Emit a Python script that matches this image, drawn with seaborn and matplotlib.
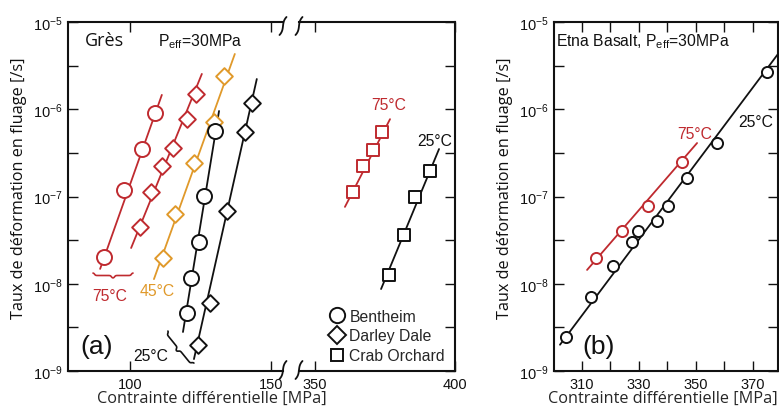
import numpy as np
import matplotlib
matplotlib.use("Agg")
import matplotlib.pyplot as plt
from matplotlib.lines import Line2D
from matplotlib.ticker import LogLocator, NullFormatter, FixedLocator
import seaborn as sns

W, H = 779, 414
RED = "#bf2a2f"
ORANGE = "#e0992a"
BLACK = "#111111"

# ---- (a) sandstones, left part of the broken axis ----
bent75_x = [90.8, 97.9, 104.3, 108.9]
bent75_y = [2.03e-8, 1.19e-7, 3.5e-7, 9.06e-7]
bent75_fit_x = [89.4, 111.3]
bent75_fit_y = [1.48e-8, 1.46e-6]

dd75_x = [103.5, 107.4, 111.3, 115.2, 120.2, 123.4]
dd75_y = [4.5e-8, 1.12e-7, 2.24e-7, 3.6e-7, 7.7e-7, 1.5e-6]
dd75_fit_x = [100.4, 125.5]
dd75_fit_y = [2.57e-8, 2.54e-6]

dd45_x = [111.7, 116.0, 122.7, 129.8, 133.3]
dd45_y = [1.97e-8, 6.3e-8, 2.4e-7, 7.1e-7, 2.4e-6]
dd45_fit_x = [108.5, 137.2]
dd45_fit_y = [1.13e-8, 4.3e-6]

bent25_x = [120.2, 121.6, 124.5, 126.2, 130.1]
bent25_y = [4.6e-9, 1.16e-8, 3.0e-8, 1.01e-7, 5.6e-7]
bent25_fit_x = [118.8, 131.6]
bent25_fit_y = [2.8e-9, 9.55e-7]

dd25_x = [124.1, 128.4, 134.4, 140.8, 143.3]
dd25_y = [2.0e-9, 6.0e-9, 6.8e-8, 5.5e-7, 1.18e-6]
dd25_fit_x = [122.7, 145.0]
dd25_fit_y = [1.37e-9, 2.22e-6]

# ---- (a) right part: Crab Orchard ----
crab75_x = [363.6, 367.1, 370.7, 373.9]
crab75_y = [1.12e-7, 2.24e-7, 3.4e-7, 5.5e-7]
crab75_fit_x = [360.7, 376.8]
crab75_fit_y = [7.6e-8, 7.7e-7]

crab25_x = [376.4, 381.8, 385.7, 391.1]
crab25_y = [1.26e-8, 3.6e-8, 9.9e-8, 1.95e-7]
crab25_fit_x = [373.6, 394.3]
crab25_fit_y = [8.7e-9, 3.5e-7]

# ---- (b) Etna basalt ----
etna25_x = [304.4, 313.2, 320.9, 327.5, 329.6, 336.3, 340.2, 346.8, 357.4, 374.9]
etna25_y = [2.45e-9, 7.0e-9, 1.6e-8, 3.0e-8, 4.0e-8, 5.2e-8, 7.8e-8, 1.63e-7, 4.1e-7, 2.7e-6]
etna25_fit_x = [302.3, 378.8]
etna25_fit_y = [2.0e-9, 4.3e-6]

etna75_x = [314.9, 324.0, 333.2, 345.1]
etna75_y = [1.97e-8, 4.0e-8, 7.8e-8, 2.48e-7]
etna75_fit_x = [311.8, 350.4]
etna75_fit_y = [1.44e-8, 4.1e-7]

a_left_ticks = [100, 150]
a_right_ticks = [350, 400]
b_ticks = [310, 320, 330, 340, 350, 360, 370]
b_tick_labels = ["310", "", "330", "", "350", "", "370"]

XLABEL = "Contrainte différentielle [MPa]"
YLABEL = "Taux de déformation en fluage [/s]"

sns.set_theme(style="ticks")
plt.rcParams["font.family"] = ["Liberation Sans", "DejaVu Sans"]
plt.rcParams["mathtext.fontset"] = "custom"
plt.rcParams["mathtext.rm"] = "Liberation Sans"
plt.rcParams["mathtext.it"] = "Liberation Sans:italic"
plt.rcParams["mathtext.bf"] = "Liberation Sans:bold"


def fpos(x, y):
    return x / W, 1 - y / H


def draw_series(ax, xs, ys, fx, fy, color, marker, ms):
    sns.lineplot(x=fx, y=fy, ax=ax, color=color, lw=1.3, sort=False,
                 estimator=None, zorder=2, legend=False)
    sns.scatterplot(x=xs, y=ys, ax=ax, marker=marker, s=ms ** 2, color=color,
                    facecolor="white", edgecolor=color, linewidth=1.4,
                    zorder=3, legend=False)


def style_axis(ax):
    ax.set_yscale("log")
    ax.set_ylim(1e-9, 1e-5)
    ax.yaxis.set_major_locator(LogLocator(base=10, numticks=10))
    ax.yaxis.set_minor_locator(LogLocator(base=10, subs=[10 ** 0.5], numticks=10))
    ax.yaxis.set_minor_formatter(NullFormatter())
    ax.tick_params(which="both", direction="in", length=7, width=1.0,
                   top=True, right=True, labelsize=10.5, colors=BLACK, pad=4)
    for s in ax.spines.values():
        s.set_linewidth(1.5)
        s.set_color(BLACK)
    ax.set_xlabel("")
    ax.set_ylabel("")


def brace(fig, p0, p1, amp, normal_sign=1, color=BLACK):
    p0 = np.array(p0, float)
    p1 = np.array(p1, float)
    d = p1 - p0
    n = np.array([-d[1], d[0]]) / np.hypot(*d) * normal_sign
    u = np.linspace(0, 1, 120)
    s = np.where(u < 0.5, 2 * u, 2 * (1 - u))
    k = 40
    q = 0.5 * (1 / (1 + np.exp(-k * (s - 0.08))) + 1 / (1 + np.exp(-k * (s - 0.92))))
    pts = p0[None, :] + u[:, None] * d[None, :] + (amp * q)[:, None] * n[None, :]
    fig.add_artist(Line2D(pts[:, 0] / W, 1 - pts[:, 1] / H, color=color,
                          lw=1.2, transform=fig.transFigure))


def break_mark(fig, cx, cy):
    t = np.linspace(-1, 1, 40)
    xs = cx - 1.0 * t - 2.5 * t ** 3
    ys = cy + 9 * t
    fig.add_artist(Line2D(xs / W, 1 - ys / H, color=BLACK, lw=1.3,
                          transform=fig.transFigure))


fig = plt.figure(figsize=(W / 100, H / 100), dpi=100)
ax1 = fig.add_axes([68 / W, 1 - 372 / H, (283 - 68) / W, 349 / H])
ax2 = fig.add_axes([299 / W, 1 - 372 / H, (455 - 299) / W, 349 / H])
ax3 = fig.add_axes([554 / W, 1 - 372 / H, (778 - 554) / W, 349 / H])

for ax in (ax1, ax2, ax3):
    ax.set_yscale("log")

# panel (a) left
draw_series(ax1, bent75_x, bent75_y, bent75_fit_x, bent75_fit_y, RED, "o", 10.8)
draw_series(ax1, dd75_x, dd75_y, dd75_fit_x, dd75_fit_y, RED, "D", 8.5)
draw_series(ax1, dd45_x, dd45_y, dd45_fit_x, dd45_fit_y, ORANGE, "D", 8.5)
draw_series(ax1, bent25_x, bent25_y, bent25_fit_x, bent25_fit_y, BLACK, "o", 10.8)
draw_series(ax1, dd25_x, dd25_y, dd25_fit_x, dd25_fit_y, BLACK, "D", 8.5)

# panel (a) right
draw_series(ax2, crab75_x, crab75_y, crab75_fit_x, crab75_fit_y, RED, "s", 8.5)
draw_series(ax2, crab25_x, crab25_y, crab25_fit_x, crab25_fit_y, BLACK, "s", 8.5)

# panel (b)
draw_series(ax3, etna25_x, etna25_y, etna25_fit_x, etna25_fit_y, BLACK, "o", 8)
draw_series(ax3, etna75_x, etna75_y, etna75_fit_x, etna75_fit_y, RED, "o", 8)

for ax in (ax1, ax2, ax3):
    style_axis(ax)

ax1.set_xlim(78.0, 154.3)
ax1.xaxis.set_major_locator(FixedLocator(a_left_ticks))
ax1.spines["right"].set_visible(False)
ax1.tick_params(which="both", right=False)

ax2.set_xlim(344.3, 400)
ax2.xaxis.set_major_locator(FixedLocator(a_right_ticks))
ax2.spines["left"].set_visible(False)
ax2.tick_params(which="both", left=False, labelleft=False)

ax3.set_xlim(300.2, 378.8)
ax3.set_xticks(b_ticks)
ax3.set_xticklabels(b_tick_labels)
ax3.xaxis.set_minor_locator(FixedLocator([]))

# panel texts
ax1.text(84.0, 6.3e-6, "Grès", fontsize=13, family=["Open Sans", "DejaVu Sans"],
         ha="left", va="center", color=BLACK)
ax1.text(109.9, 6.1e-6, r"P$_{\mathrm{eff}}$=30MPa", fontsize=11.3,
         ha="left", va="center", color=BLACK)
ax1.text(92.9, 7.3e-9, "75°C", color=RED, fontsize=11.3, ha="center", va="center")
ax1.text(109.6, 8.3e-9, "45°C", color=ORANGE, fontsize=11.3, ha="center", va="center")
ax1.text(101.1, 1.5e-9, "25°C", color=BLACK, fontsize=11.3, ha="left", va="center")
ax1.text(82.3, 1.95e-9, "(a)", color=BLACK, fontsize=19, ha="left", va="center")

ax2.text(376.3, 1.12e-6, "75°C", color=RED, fontsize=11.3, ha="center", va="center")
ax2.text(392.9, 4.4e-7, "25°C", color=BLACK, fontsize=11.3, ha="center", va="center")

ax3.text(300.9, 6.1e-6, r"Etna Basalt, P$_{\mathrm{eff}}$=30MPa", fontsize=11.3,
         ha="left", va="center", color=BLACK)
ax3.text(349.5, 5.25e-7, "75°C", color=RED, fontsize=11.3, ha="center", va="center")
ax3.text(371.1, 7.2e-7, "25°C", color=BLACK, fontsize=11.3, ha="center", va="center")
ax3.text(310.0, 1.95e-9, "(b)", color=BLACK, fontsize=19, ha="left", va="center")

# legend
handles = [
    Line2D([], [], marker="o", ls="none", mfc="white", mec=BLACK, ms=11, mew=1.4),
    Line2D([], [], marker="D", ls="none", mfc="white", mec=BLACK, ms=9, mew=1.4),
    Line2D([], [], marker="s", ls="none", mfc="white", mec=BLACK, ms=8.5, mew=1.4),
]
fig.legend(handles, ["Bentheim", "Darley Dale", "Crab Orchard"],
           loc="center left", bbox_to_anchor=fpos(329, 337), frameon=False,
           fontsize=11.3, handlelength=1.0, handletextpad=0.3, borderpad=0,
           borderaxespad=0, labelspacing=0.3, numpoints=1)

# braces and axis breaks
brace(fig, (93, 274), (133, 274), 5, normal_sign=1, color=RED)
brace(fig, (168, 332), (194, 364), 6, normal_sign=1, color=BLACK)
for cx in (283, 299):
    break_mark(fig, cx, 27)
    break_mark(fig, cx, 371)

# axis labels
lab_font = ["Open Sans", "DejaVu Sans"]
fig.text(*fpos(212, 399), XLABEL, fontsize=11.7, family=lab_font, ha="center", va="center")
fig.text(*fpos(663, 399), XLABEL, fontsize=11.7, family=lab_font, ha="center", va="center")
for ax, xpix, left, width in ((ax1, 27, 68, 215), (ax3, 513, 554, 224)):
    ax.set_ylabel(YLABEL, fontsize=11.7, family=lab_font, color=BLACK)
    ax.yaxis.set_label_coords((xpix - left) / width, (372 - 188) / 349)

fig.savefig("out.png", dpi=100)
